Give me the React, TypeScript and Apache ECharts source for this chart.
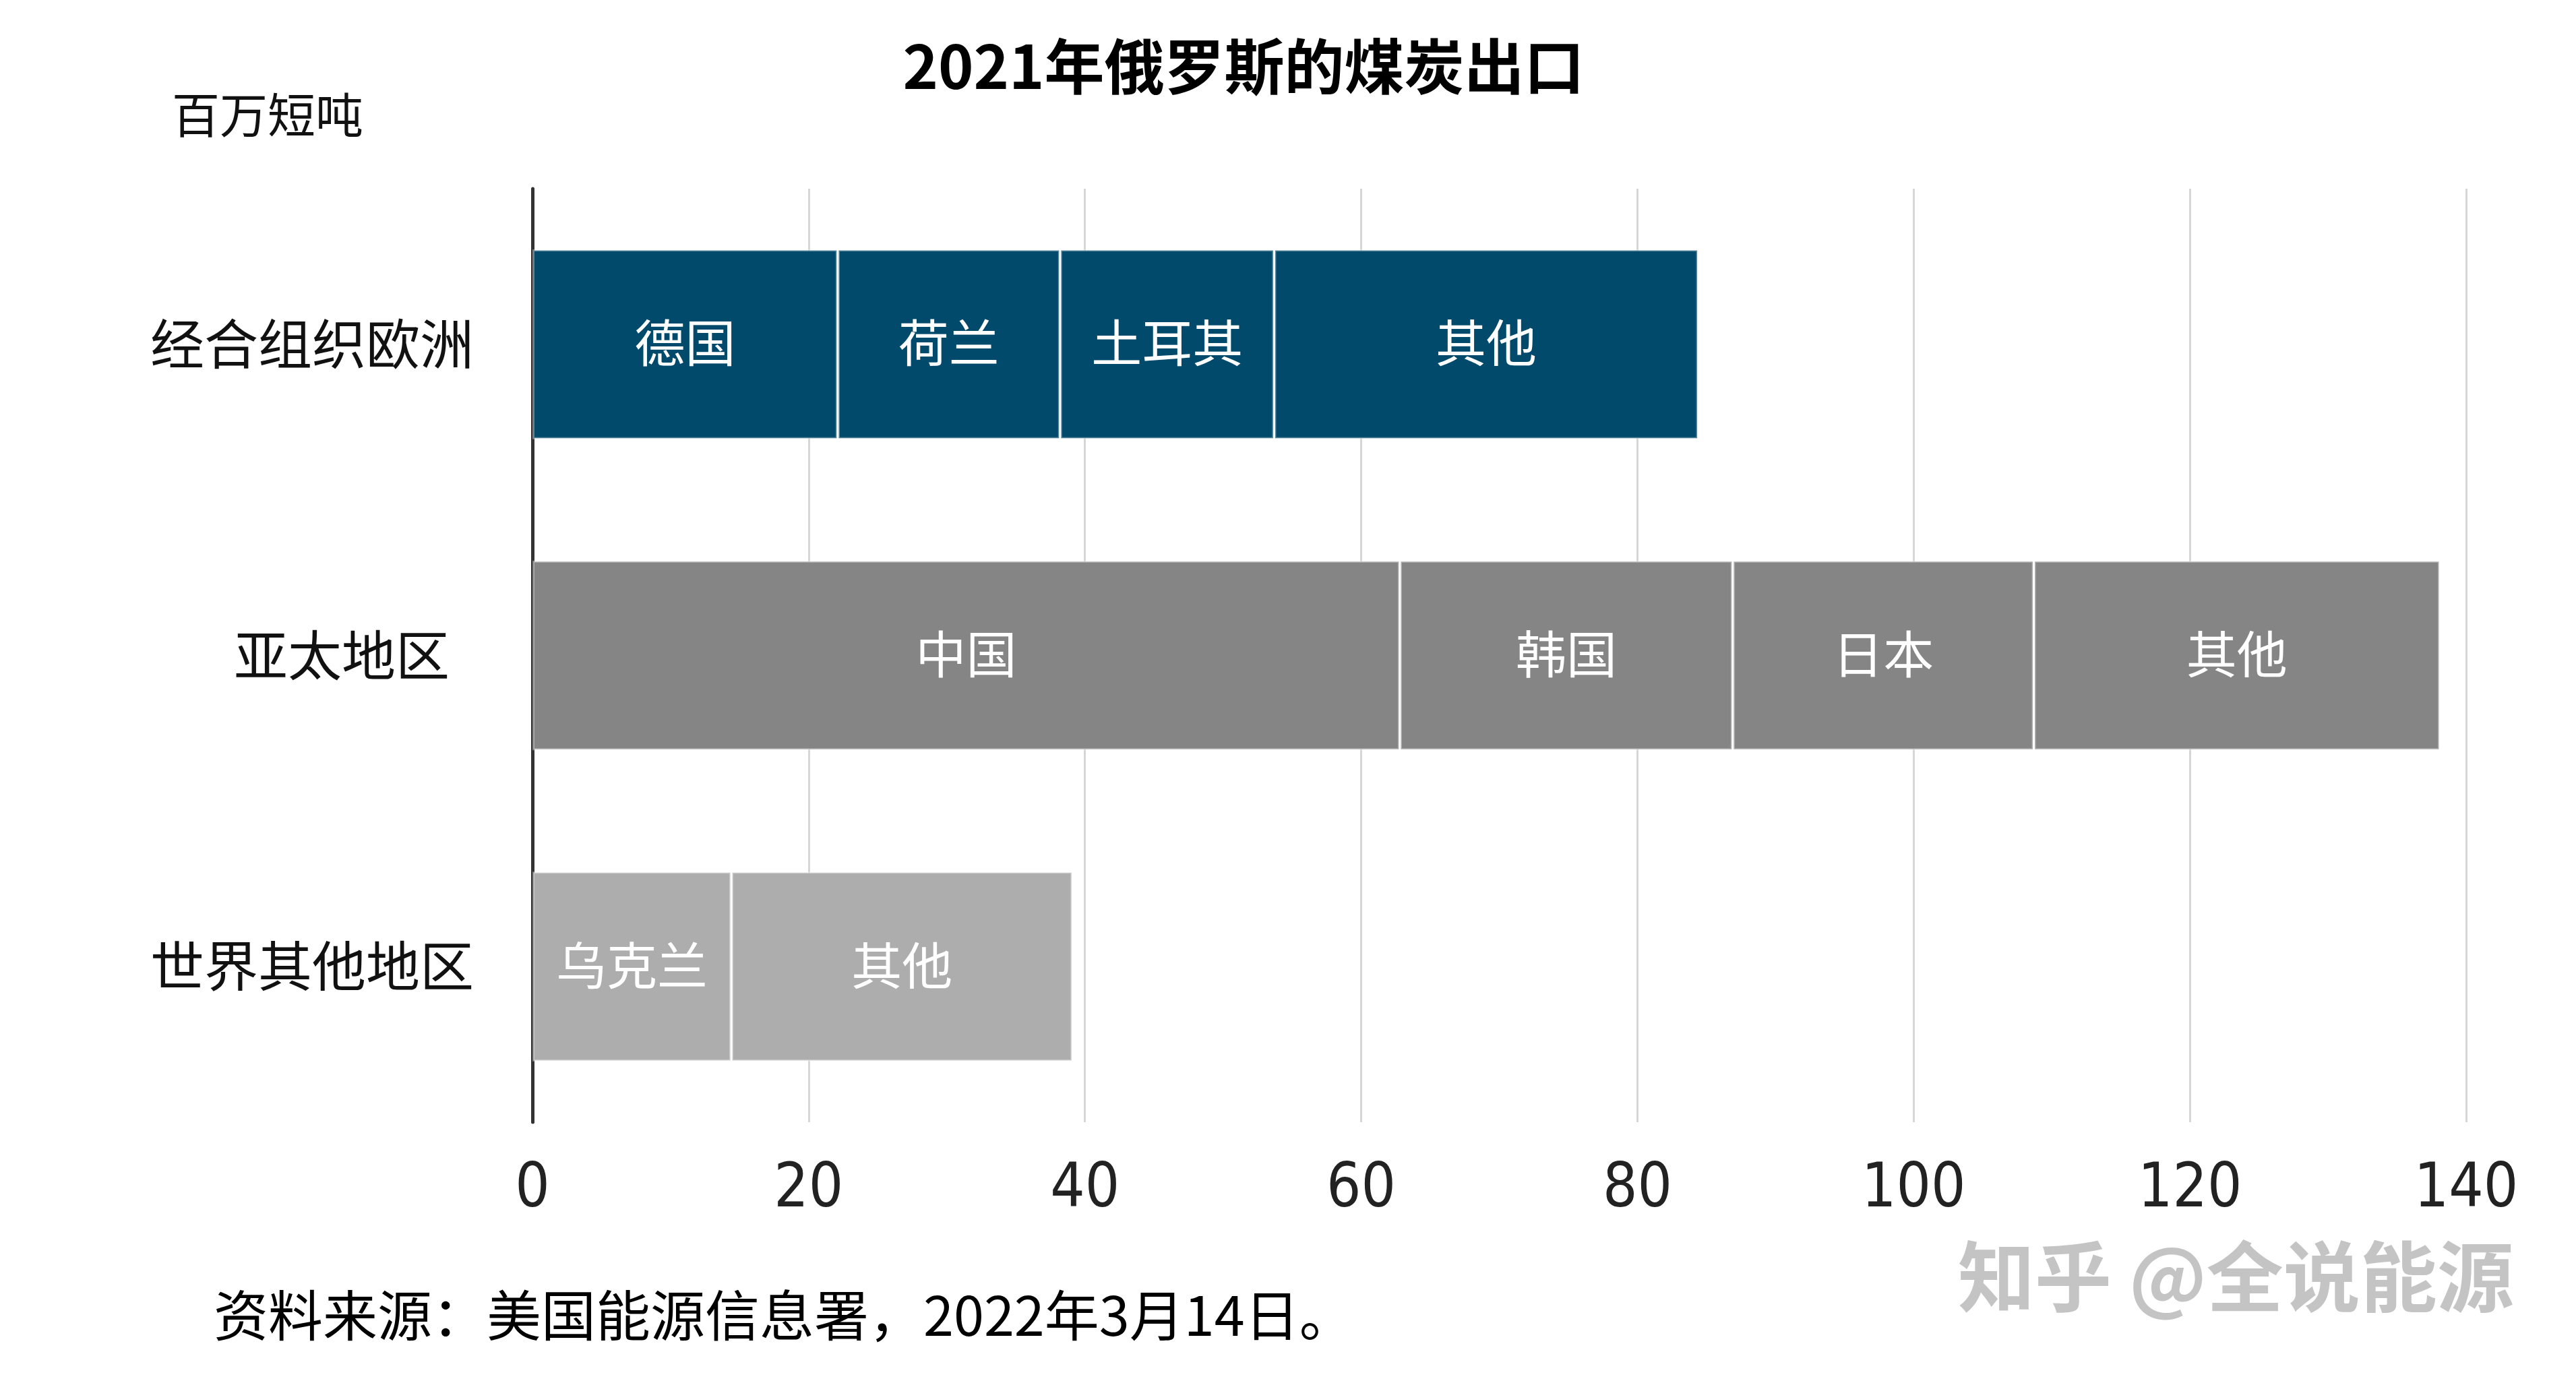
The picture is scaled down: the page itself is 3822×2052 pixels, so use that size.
import React, { useEffect, useRef } from "react";
import * as echarts from "echarts";

const categories = ["经合组织欧洲", "亚太地区", "世界其他地区"];
const oecdNames = ["德国", "荷兰", "土耳其", "其他"];
const oecdValues = [22.1, 16.1, 15.5, 30.7];
const asiaNames = ["中国", "韩国", "日本", "其他"];
const asiaValues = [62.8, 24.1, 21.8, 29.4];
const rowNames = ["乌克兰", "其他"];
const rowValues = [14.4, 24.7];
const xTicks = [0, 20, 40, 60, 80, 100, 120, 140];

const groupNames = [oecdNames, asiaNames, rowNames];
const groupValues = [oecdValues, asiaValues, rowValues];
const groupColors = ["#024a6b", "#858585", "#adadad"];

const CJK = "'Noto Sans CJK SC', 'Noto Sans', sans-serif";
const NUM = "'Liberation Sans Narrow', 'DejaVu Sans Condensed', 'Roboto Condensed', 'Liberation Sans', sans-serif";

export default function App() {
  const ref = useRef<HTMLDivElement>(null);
  useEffect(() => {
    if (!ref.current) return;
    const chart = echarts.init(ref.current, null, { renderer: "svg" });
    const maxSeg = Math.max(...groupValues.map((g) => g.length));
    const series: any[] = [];
    for (let s = 0; s < maxSeg; s++) {
      series.push({
        type: "bar",
        stack: "total",
        name: "seg" + s,
        barCategoryGap: "39%",
        data: categories.map((c, ci) => {
          const v = groupValues[ci][s];
          if (v === undefined) return "-";
          return {
            value: v,
            name: groupNames[ci][s],
            itemStyle: { color: groupColors[ci] },
          };
        }),
        itemStyle: {
          borderColor: "rgba(255,255,255,0.35)",
          borderWidth: 3,
        },
        label: {
          show: true,
          position: "inside",
          formatter: (p: any) => (p.data && p.data.name ? p.data.name : ""),
          color: "#ffffff",
          fontSize: 75,
          fontFamily: CJK,
          offset: [0, -6],
        },
      });
    }
    chart.setOption({
      animation: false,
      backgroundColor: "#ffffff",
      title: {
        text: "2021年俄罗斯的煤炭出口",
        left: 1840,
        top: 44,
        textAlign: "center",
        textStyle: { fontSize: 89, fontWeight: "bold", color: "#000", fontFamily: CJK },
      },
      grid: { left: 790, right: 163, top: 280, bottom: 387, containLabel: false },
      xAxis: {
        type: "value",
        min: 0,
        max: 140,
        interval: 20,
        axisLine: { show: false },
        axisTick: { show: false },
        splitLine: { show: true, lineStyle: { color: "#d6d6d6", width: 3 } },
        axisLabel: {
          color: "#222",
          fontSize: 90,
          fontFamily: NUM,
          margin: 48,
          formatter: (v: number) => (xTicks.includes(v) ? String(v) : ""),
        },
      },
      yAxis: {
        type: "category",
        data: categories,
        inverse: true,
        axisLine: { show: true, lineStyle: { color: "#333", width: 5 } },
        axisTick: { show: false },
        axisLabel: {
          color: "#111",
          fontSize: 80,
          fontFamily: CJK,
          align: "center",
          margin: 327,
          padding: [0, 0, 12, 0],
          formatter: (v: string, i: number) => (i === 1 ? "{s|" + v + "}" : "{n|" + v + "}"),
          rich: {
            n: { fontSize: 80, fontFamily: CJK, color: "#111" },
            s: { fontSize: 80, fontFamily: CJK, color: "#111", padding: [0, 0, 0, 88] },
          },
        },
      },
      graphic: [
        {
          type: "text",
          left: 255,
          top: 130,
          style: { text: "百万短吨", fontSize: 71, fill: "#111", fontFamily: CJK },
        },
        {
          type: "text",
          left: 317,
          top: 1906,
          style: {
            text: "资料来源：美国能源信息署，2022年3月14日。",
            fontSize: 81,
            fill: "#000",
            fontFamily: CJK,
          },
        },
        {
          type: "text",
          left: 2905,
          top: 1830,
          style: {
            text: "知乎 @全说能源",
            fontSize: 114,
            fontWeight: "bold",
            fill: "#c4c4c4",
            fontFamily: CJK,
          },
        },
      ],
      series,
    });
    return () => chart.dispose();
  }, []);
  return (
    <div
      ref={ref}
      style={{ position: "fixed", left: 0, top: 0, width: 3822, height: 2052, background: "#fff" }}
    />
  );
}
